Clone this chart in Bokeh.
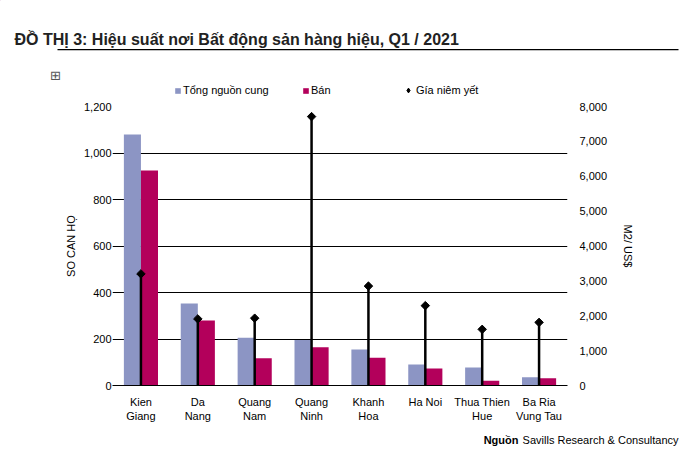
import numpy as np
from bokeh.plotting import figure
from bokeh.layouts import column
from bokeh.models import (FactorRange, Range1d, LinearAxis, FixedTicker, NumeralTickFormatter,
                          ColumnDataSource, Legend, LegendItem, Label, BoxAnnotation)
from bokeh.transform import dodge
from bokeh.embed import file_html
from bokeh.resources import INLINE

# ---- data ----
categories = ["Kien\nGiang", "Da\nNang", "Quang\nNam", "Quang\nNinh", "Khanh\nHoa",
              "Ha Noi", "Thua Thien\nHue", "Ba Ria\nVung Tau"]
supply = [1080, 353, 205, 196, 155, 90, 77, 36]          # Tổng nguồn cung
sold = [925, 280, 117, 165, 119, 73, 20, 31]             # Bán
price = [3200, 1910, 1930, 7710, 2850, 2290, 1610, 1810] # Gía niêm yết (US$/m2)
left_ticks = [0, 200, 400, 600, 800, 1000, 1200]
right_ticks = [0, 1000, 2000, 3000, 4000, 5000, 6000, 7000, 8000]

SUPPLY_C = "#8C95C4"
SOLD_C = "#B3005B"
FONT = "Liberation Sans"
W = 696


def bare(fig):
    fig.axis.visible = False
    fig.grid.grid_line_color = None
    fig.outline_line_color = None
    fig.min_border = 0
    fig.background_fill_color = "white"
    fig.border_fill_color = "white"
    fig.frame_align = False


# ---------------- header: title, underline, legend ----------------
hdr = figure(width=W, height=100, x_range=Range1d(0, W), y_range=Range1d(100, 0),
             output_backend="svg", toolbar_location=None)
bare(hdr)
hdr.add_layout(Label(x=14, y=39, text="ĐỒ THỊ 3: Hiệu suất nơi Bất động sản hàng hiệu, Q1 / 2021",
                     text_font=FONT, text_font_size="16px", text_font_style="bold",
                     text_color="#222222", text_baseline="middle", text_align="left"))
hdr.add_layout(BoxAnnotation(left=57, right=678, top=48.4, bottom=49.8,
                             fill_color="black", fill_alpha=1, line_color=None))
hdr.add_layout(Label(x=55, y=75, text="⊞", text_font="DejaVu Sans", text_font_size="13px",
                     text_color="#555555", text_align="center", text_baseline="middle"))

# off-screen dummy renderers that only supply legend swatches
lg_sup = hdr.vbar(x=[-1000], top=[-1000], bottom=[-1001], width=1,
                  fill_color=SUPPLY_C, line_color=None)
lg_sold = hdr.vbar(x=[-1000], top=[-1000], bottom=[-1001], width=1,
                   fill_color=SOLD_C, line_color=None)
lg_price = hdr.scatter(x=[-1000], y=[-1000], marker="diamond", size=8,
                       fill_color="black", line_color="black")


def mk_legend(label, rend, x, y, gw=7, gh=7):
    lg = Legend(items=[LegendItem(label=label, renderers=[rend])], location=(x, y),
                orientation="horizontal", padding=0, margin=0, spacing=0,
                border_line_color=None, background_fill_alpha=0,
                glyph_width=gw, glyph_height=gh, label_standoff=2, label_height=12,
                label_text_font=FONT, label_text_font_size="11px", label_text_color="black")
    hdr.add_layout(lg, "center")


mk_legend("Tổng nguồn cung", lg_sup, 174, 4)
mk_legend("Bán", lg_sold, 302, 4)
mk_legend("Gía niêm yết", lg_price, 402, 4, gw=12, gh=12)

# ---------------- main chart ----------------
src = ColumnDataSource(dict(cat=categories, supply=supply, sold=sold, price=price,
                            zero=[0] * len(categories)))

p = figure(x_range=FactorRange(factors=categories, range_padding=0),
           y_range=Range1d(0, 1200), width=W, height=330,
           min_border_left=112, min_border_right=W - 567, min_border_top=6, min_border_bottom=45,
           output_backend="svg", toolbar_location=None)
p.outline_line_color = None
p.background_fill_color = "white"
p.border_fill_color = "white"
p.frame_align = False
p.extra_y_ranges = {"price": Range1d(0, 8000)}

ya = p.yaxis[0]
ya.ticker = FixedTicker(ticks=left_ticks)
ya.formatter = NumeralTickFormatter(format="0,0")
ya.axis_line_color = None
ya.major_tick_line_color = None
ya.minor_tick_line_color = None
ya.major_tick_out = 0
ya.major_tick_in = 0
ya.major_label_standoff = 1
ya.major_label_text_font = FONT
ya.major_label_text_font_size = "11px"
ya.major_label_text_color = "black"
ya.axis_label = "SO CAN HỌ"
ya.axis_label_text_font = FONT
ya.axis_label_text_font_size = "11px"
ya.axis_label_text_font_style = "normal"
ya.axis_label_text_color = "black"
ya.axis_label_standoff = 4

ra = LinearAxis(y_range_name="price", ticker=FixedTicker(ticks=right_ticks),
                formatter=NumeralTickFormatter(format="0,0"))
ra.axis_line_color = None
ra.major_tick_line_color = None
ra.minor_tick_line_color = None
ra.major_tick_out = 0
ra.major_tick_in = 0
ra.major_label_standoff = 12
ra.major_label_text_font = FONT
ra.major_label_text_font_size = "11px"
ra.major_label_text_color = "black"
ra.axis_label = "M2/ US$"
ra.axis_label_text_font = FONT
ra.axis_label_text_font_size = "11px"
ra.axis_label_text_font_style = "normal"
ra.axis_label_text_color = "black"
ra.axis_label_standoff = 12
p.add_layout(ra, "right")

xa = p.xaxis[0]
xa.axis_line_color = "black"
xa.axis_line_width = 1
xa.major_tick_line_color = None
xa.minor_tick_line_color = None
xa.major_tick_out = 0
xa.major_tick_in = 0
xa.major_label_standoff = 10
xa.major_label_text_font = FONT
xa.major_label_text_font_size = "11px"
xa.major_label_text_color = "black"

p.xgrid.grid_line_color = None
p.ygrid.ticker = FixedTicker(ticks=left_ticks)
p.ygrid.grid_line_color = "black"
p.ygrid.grid_line_width = 1

p.vbar(x=dodge("cat", -0.15, range=p.x_range), top="supply", width=0.3,
       source=src, fill_color=SUPPLY_C, line_color=None)
p.vbar(x=dodge("cat", 0.15, range=p.x_range), top="sold", width=0.3,
       source=src, fill_color=SOLD_C, line_color=None)
p.segment(x0="cat", y0="zero", x1="cat", y1="price", y_range_name="price",
          source=src, line_color="black", line_width=2.5)
p.scatter(x="cat", y="price", y_range_name="price", source=src,
          marker="square", angle=np.pi / 4, size=6, fill_color="black", line_color="black")

# ---------------- footer: source ----------------
ftr = figure(width=W, height=35, x_range=Range1d(0, W), y_range=Range1d(465, 430),
             output_backend="svg", toolbar_location=None)
bare(ftr)
ftr.add_layout(Label(x=678, y=439, text="Savills Research & Consultancy", text_font=FONT,
                     text_font_size="11px", text_align="right", text_baseline="middle",
                     text_color="black"))
ftr.add_layout(Label(x=518, y=439, text="Nguồn", text_font=FONT, text_font_style="bold",
                     text_font_size="11px", text_align="right", text_baseline="middle",
                     text_color="black"))

layout = column(hdr, p, ftr, spacing=0)
open("out.html", "w").write(file_html(layout, INLINE))
